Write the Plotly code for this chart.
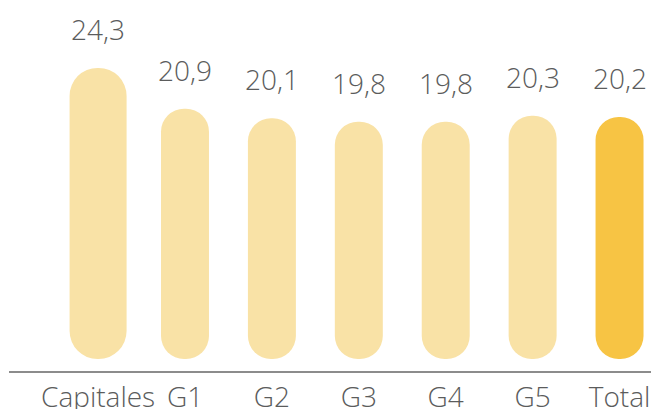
import plotly.graph_objects as go

categories = ["Capitales", "G1", "G2", "G3", "G4", "G5", "Total"]
values = [24.3, 20.9, 20.1, 19.8, 19.8, 20.3, 20.2]

LIGHT = "#F9E2A6"
DARK = "#F7C444"
TEXT = "#5b5c5c"
FONT = "Open Sans"

colors = [DARK if c == "Total" else LIGHT for c in categories]
widths = [0.656 if c == "Capitales" else 0.552 for c in categories]

fig = go.Figure()
fig.add_trace(go.Bar(
    x=categories, y=values, base=[0] * len(values),
    width=widths, marker=dict(color=colors, cornerradius="50%", line=dict(width=0)),
    hoverinfo="skip", showlegend=False,
))

for c, v in zip(categories, values):
    fig.add_annotation(
        x=c, y=v, text=f"{v:.1f}".replace(".", ","), showarrow=False,
        yanchor="bottom", yshift=18,
        font=dict(family=FONT, size=28, color=TEXT, weight=300),
    )

fig.update_layout(
    width=651, height=409,
    margin=dict(l=9, r=0, t=0, b=38),
    paper_bgcolor="white", plot_bgcolor="white",
    barmode="overlay",
    xaxis=dict(
        type="category", range=[-1.025, 6.362], automargin=False,
        showline=True, linecolor="#8c8c8c", linewidth=1.5,
        showgrid=False, zeroline=False, ticklabelstandoff=1,
        ticks="", tickfont=dict(family=FONT, size=28, color=TEXT, weight=300),
    ),
    yaxis=dict(range=[-1.0, 29.97], visible=False, showgrid=False, zeroline=False,
               automargin=False),
)

fig.write_html(
    "out.html",
    config={"displayModeBar": False, "staticPlot": True},
    post_script="document.body.style.margin='0';document.body.style.overflow='hidden';",
)
